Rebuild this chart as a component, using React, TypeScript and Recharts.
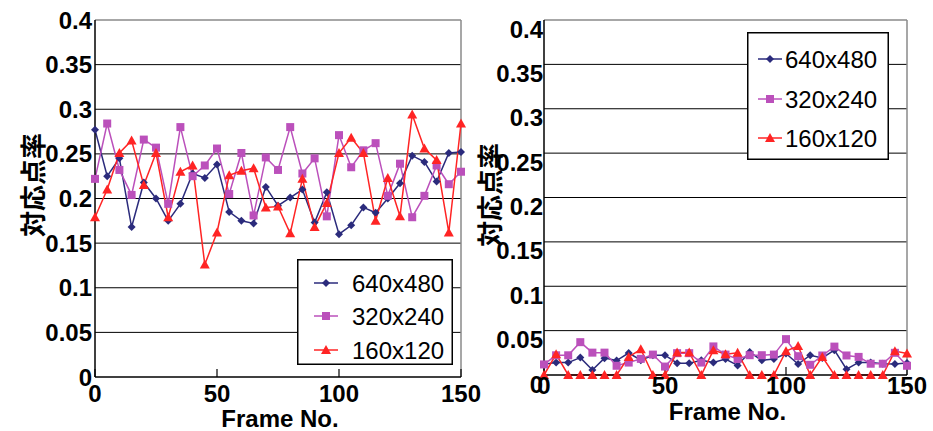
import React from 'react';
import { CartesianGrid, Label, Line, LineChart, ReferenceLine, XAxis, YAxis } from 'recharts';

const frames = [0, 5, 10, 15, 20, 25, 30, 35, 40, 45, 50, 55, 60, 65, 70, 75, 80, 85, 90, 95, 100, 105, 110, 115, 120, 125, 130, 135, 140, 145, 150];
const seriesNames = ['640x480', '320x240', '160x120'];

// left panel
const left640 = [0.277, 0.225, 0.245, 0.168, 0.218, 0.2, 0.175, 0.194, 0.228, 0.223, 0.238, 0.185, 0.175, 0.172, 0.213, 0.192, 0.201, 0.21, 0.173, 0.207, 0.16, 0.17, 0.19, 0.184, 0.2, 0.217, 0.248, 0.241, 0.219, 0.251, 0.252];
const left320 = [0.222, 0.284, 0.232, 0.204, 0.266, 0.257, 0.194, 0.28, 0.225, 0.237, 0.256, 0.205, 0.251, 0.181, 0.246, 0.232, 0.28, 0.228, 0.245, 0.18, 0.271, 0.235, 0.254, 0.262, 0.203, 0.239, 0.179, 0.203, 0.237, 0.216, 0.23];
const left160 = [0.179, 0.21, 0.251, 0.265, 0.215, 0.251, 0.179, 0.23, 0.237, 0.126, 0.162, 0.226, 0.231, 0.234, 0.19, 0.191, 0.161, 0.222, 0.168, 0.195, 0.251, 0.268, 0.251, 0.175, 0.223, 0.18, 0.294, 0.256, 0.243, 0.162, 0.284];

// right panel
const right640 = [0.012, 0.014, 0.014, 0.0196, 0.0056, 0.019, 0.0163, 0.0248, 0.0167, 0.0223, 0.0223, 0.0133, 0.0133, 0.0167, 0.014, 0.018, 0.0108, 0.0258, 0.0165, 0.018, 0.0242, 0.0123, 0.0223, 0.0192, 0.028, 0.0065, 0.0142, 0.0142, 0.0127, 0.0123, 0.0135];
const right320 = [0.0119, 0.0222, 0.0222, 0.037, 0.0252, 0.0252, 0.0104, 0.014, 0.0182, 0.023, 0.0095, 0.0246, 0.0246, 0.014, 0.0322, 0.023, 0.018, 0.0223, 0.0223, 0.023, 0.0404, 0.0212, 0.0115, 0.022, 0.032, 0.022, 0.0204, 0.0127, 0.0127, 0.025, 0.0104];
const right160 = [0, 0.0233, 0, 0, 0, 0, 0, 0.0204, 0.029, 0, 0, 0.0254, 0.0254, 0, 0.028, 0.0235, 0.025, 0, 0, 0, 0.0269, 0.0327, 0, 0.0204, 0, 0, 0, 0, 0, 0.0269, 0.0242];

const yTicks = [0, 0.05, 0.1, 0.15, 0.2, 0.25, 0.3, 0.35, 0.4];
const xTicks = [0, 50, 100, 150];
const gridValues = [0.05, 0.1, 0.15, 0.2, 0.25, 0.3, 0.35];

const colors = ['#2b2b7c', '#bb50bb', '#ff2424'];
const tickFont = { fontSize: 24, fontWeight: 'bold', fill: '#000', fontFamily: '"Liberation Sans", Arial, sans-serif' };

const buildRows = (a: number[], b: number[], c: number[]) =>
  frames.map((frame, i) => ({ frame, s640: a[i], s320: b[i], s160: c[i] }));

const Marker = ({ kind, cx, cy, color }: { kind: number; cx: number; cy: number; color: string }) => {
  if (kind === 0) {
    return <polygon points={`${cx},${cy - 4} ${cx + 4},${cy} ${cx},${cy + 4} ${cx - 4},${cy}`} fill={color} />;
  }
  if (kind === 1) {
    return <rect x={cx - 4} y={cy - 4} width={8} height={8} fill={color} />;
  }
  return <polygon points={`${cx},${cy - 5} ${cx + 5},${cy + 4} ${cx - 5},${cy + 4}`} fill={color} />;
};

const dotFor = (kind: number) => (props: any) => {
  const { cx, cy, index } = props;
  if (cx == null || cy == null) return <g key={index} />;
  return <Marker key={index} kind={kind} cx={cx} cy={cy} color={colors[kind]} />;
};

type PanelProps = {
  rows: any[];
  left: number;
  width: number;
  margin: { top: number; right: number; left: number; bottom: number };
  xAxisHeight: number;
  yAxisWidth: number;
  yTickDy: number;
  yTickMargin: number;
  xTickMargin: number;
  yLabelX: number;
  yLabelY: number;
  xLabelY: number;
  xLabelDx: number;
};

function Panel(p: PanelProps) {
  const keys = ['s640', 's320', 's160'];
  return (
    <div style={{ position: 'absolute', left: p.left, top: 0 }}>
      <LineChart width={p.width} height={431} data={p.rows} margin={p.margin}>
        <CartesianGrid horizontal vertical={false} horizontalValues={gridValues} stroke="#000" strokeWidth={1} />
        <ReferenceLine y={0.4} stroke="#8a8a8a" strokeWidth={1.5} />
        <ReferenceLine x={150} stroke="#8a8a8a" strokeWidth={1.5} />
        <XAxis
          dataKey="frame"
          type="number"
          domain={[0, 150]}
          ticks={xTicks}
          interval={0}
          height={p.xAxisHeight}
          axisLine={{ stroke: '#000', strokeWidth: 1.5 }}
          tickLine={{ stroke: '#000', strokeWidth: 1.2 }}
          tickSize={-8}
          tickMargin={p.xTickMargin}
          tick={tickFont}
        >
          <Label
            content={({ viewBox }: any) => (
              <text
                x={viewBox.x + viewBox.width / 2 + p.xLabelDx}
                y={p.xLabelY}
                textAnchor="middle"
                style={{ fontSize: 24, fontWeight: 'bold', fontFamily: '"Liberation Sans", Arial, sans-serif' }}
                fill="#000"
              >
                Frame No.
              </text>
            )}
          />
        </XAxis>
        <YAxis
          type="number"
          domain={[0, 0.4]}
          ticks={yTicks}
          interval={0}
          width={p.yAxisWidth}
          axisLine={{ stroke: '#000', strokeWidth: 1.5 }}
          tickLine={false}
          tickSize={0}
          tickMargin={p.yTickMargin}
          tick={{ ...tickFont, dy: p.yTickDy }}
          tickFormatter={(v: number) => String(Math.round(v * 100) / 100)}
        >
          <Label
            content={() => (
              <text
                x={p.yLabelX}
                y={p.yLabelY}
                textAnchor="middle"
                dominantBaseline="central"
                transform={`rotate(-90 ${p.yLabelX} ${p.yLabelY})`}
                style={{ fontSize: 26, fontWeight: 'bold', fontFamily: '"Noto Sans CJK JP", sans-serif' }}
                fill="#000"
              >
                対応点率
              </text>
            )}
          />
        </YAxis>
        {keys.map((k, i) => (
          <Line
            key={k}
            type="linear"
            dataKey={k}
            name={seriesNames[i]}
            stroke={colors[i]}
            strokeWidth={1.5}
            dot={dotFor(i)}
            activeDot={false}
            isAnimationActive={false}
          />
        ))}
      </LineChart>
    </div>
  );
}

function LegendBox({ left, top, width, height, rowsY, lineX, textX }: { left: number; top: number; width: number; height: number; rowsY: number[]; lineX: number; textX: number }) {
  return (
    <svg style={{ position: 'absolute', left, top }} width={width} height={height}>
      <rect x={0.75} y={0.75} width={width - 1.5} height={height - 1.5} fill="#fff" stroke="#000" strokeWidth={1.5} />
      {seriesNames.map((name, i) => (
        <g key={name}>
          <line x1={lineX} x2={lineX + 24} y1={rowsY[i]} y2={rowsY[i]} stroke={colors[i]} strokeWidth={1.5} />
          <Marker kind={i} cx={lineX + 12} cy={rowsY[i]} color={colors[i]} />
          <text
            x={textX}
            y={rowsY[i]}
            dominantBaseline="central"
            style={{ fontSize: 24, fontFamily: '"Liberation Sans", Arial, sans-serif' }}
            fill="#000"
          >
            {name}
          </text>
        </g>
      ))}
    </svg>
  );
}

export default function App() {
  const leftRows = buildRows(left640, left320, left160);
  const rightRows = buildRows(right640, right320, right160);
  return (
    <div style={{ position: 'absolute', left: 0, top: 0, width: 933, height: 431, background: '#fff', overflow: 'hidden' }}>
      <Panel
        rows={rightRows}
        left={470}
        width={463}
        margin={{ top: 20, right: 26, left: 0, bottom: 0 }}
        xAxisHeight={56}
        yAxisWidth={74}
        yTickDy={9}
        yTickMargin={1}
        xTickMargin={10}
        yLabelX={18}
        yLabelY={195}
        xLabelY={420}
        xLabelDx={2}
      />
      <Panel
        rows={leftRows}
        left={0}
        width={490}
        margin={{ top: 20, right: 29, left: 0, bottom: 0 }}
        xAxisHeight={54}
        yAxisWidth={95}
        yTickDy={0}
        yTickMargin={3}
        xTickMargin={16}
        yLabelX={31}
        yLabelY={185}
        xLabelY={427}
        xLabelDx={2}
      />
      <LegendBox left={297} top={259} width={156} height={106} rowsY={[24, 57, 91]} lineX={17} textX={55} />
      <LegendBox left={747} top={32} width={142} height={128} rowsY={[27, 67, 106]} lineX={11} textX={38} />
    </div>
  );
}
